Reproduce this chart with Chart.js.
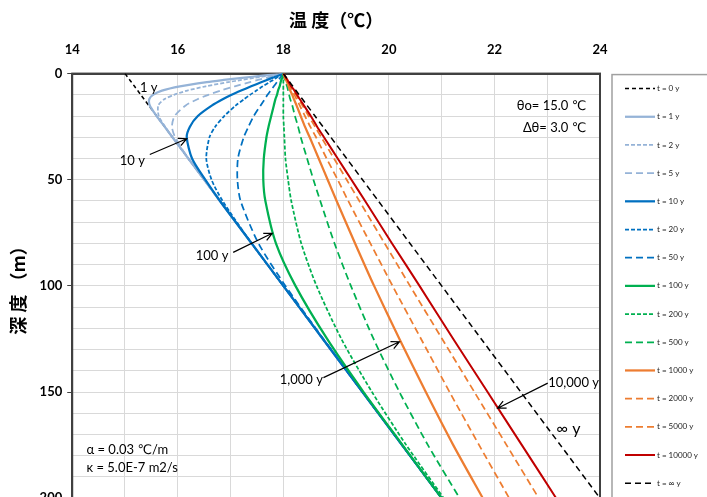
<!DOCTYPE html>
<html>
<head>
<meta charset="utf-8">
<script src="https://cdn.jsdelivr.net/npm/chart.js@4"></script>
<style>
html, body { margin: 0; padding: 0; background: #fff; overflow: hidden; }
#wrap { position: relative; width: 707px; height: 511px; }
</style>
</head>
<body>
<div id="wrap"><canvas id="chartCanvas"></canvas></div>
<script>
// depth (m) shared by every profile
const depths = [0, 1, 2, 3, 4, 6, 8, 10, 12, 15, 20, 25, 30, 40, 50, 60, 80, 100, 125, 150, 175, 200];

// temperature (C) at each depth, one array per elapsed time
const temp0 = [15.00, 15.03, 15.06, 15.09, 15.12, 15.18, 15.24, 15.30, 15.36, 15.45, 15.60, 15.75, 15.90, 16.20, 16.50, 16.80, 17.40, 18.00, 18.75, 19.50, 20.25, 21.00];
const temp1 = [18.00, 17.61, 17.22, 16.87, 16.55, 16.04, 15.70, 15.53, 15.46, 15.47, 15.60, 15.75, 15.90, 16.20, 16.50, 16.80, 17.40, 18.00, 18.75, 19.50, 20.25, 21.00];
const temp2 = [18.00, 17.73, 17.46, 17.21, 16.96, 16.53, 16.18, 15.93, 15.75, 15.63, 15.64, 15.76, 15.90, 16.20, 16.50, 16.80, 17.40, 18.00, 18.75, 19.50, 20.25, 21.00];
const temp5 = [18.00, 17.84, 17.68, 17.52, 17.37, 17.08, 16.81, 16.58, 16.38, 16.15, 15.94, 15.89, 15.95, 16.20, 16.50, 16.80, 17.40, 18.00, 18.75, 19.50, 20.25, 21.00];
const temp10 = [18.00, 17.90, 17.79, 17.69, 17.59, 17.39, 17.20, 17.02, 16.86, 16.65, 16.38, 16.23, 16.17, 16.27, 16.52, 16.80, 17.40, 18.00, 18.75, 19.50, 20.25, 21.00];
const temp20 = [18.00, 17.94, 17.87, 17.81, 17.74, 17.61, 17.49, 17.37, 17.26, 17.10, 16.88, 16.71, 16.60, 16.54, 16.64, 16.85, 17.40, 18.00, 18.75, 19.50, 20.25, 21.00];
const temp50 = [18.00, 17.97, 17.94, 17.91, 17.88, 17.82, 17.76, 17.70, 17.65, 17.57, 17.44, 17.34, 17.25, 17.14, 17.13, 17.19, 17.53, 18.04, 18.76, 19.50, 20.25, 21.00];
const temp100 = [18.00, 17.99, 17.98, 17.96, 17.95, 17.93, 17.90, 17.88, 17.85, 17.82, 17.77, 17.72, 17.68, 17.63, 17.62, 17.66, 17.86, 18.23, 18.83, 19.52, 20.26, 21.00];
const temp200 = [18.00, 18.00, 18.00, 18.00, 18.00, 18.00, 18.00, 18.00, 18.00, 18.00, 18.00, 18.01, 18.02, 18.04, 18.09, 18.15, 18.34, 18.63, 19.10, 19.68, 20.33, 21.04];
const temp500 = [18.00, 18.01, 18.02, 18.03, 18.04, 18.07, 18.09, 18.11, 18.13, 18.17, 18.22, 18.28, 18.33, 18.45, 18.57, 18.70, 18.97, 19.28, 19.71, 20.20, 20.74, 21.34];
const temp1000 = [18.00, 18.02, 18.03, 18.05, 18.07, 18.10, 18.13, 18.17, 18.20, 18.25, 18.33, 18.41, 18.50, 18.67, 18.84, 19.01, 19.36, 19.72, 20.20, 20.70, 21.22, 21.78];
const temp2000 = [18.00, 18.02, 18.04, 18.06, 18.08, 18.12, 18.16, 18.21, 18.25, 18.31, 18.41, 18.51, 18.62, 18.82, 19.03, 19.23, 19.65, 20.07, 20.61, 21.15, 21.71, 22.28];
const temp5000 = [18.00, 18.02, 18.05, 18.07, 18.10, 18.14, 18.19, 18.24, 18.29, 18.36, 18.48, 18.60, 18.72, 18.96, 19.20, 19.44, 19.92, 20.40, 21.01, 21.62, 22.23, 22.84];
const temp10000 = [18.00, 18.03, 18.05, 18.08, 18.10, 18.15, 18.21, 18.26, 18.31, 18.39, 18.52, 18.64, 18.77, 19.03, 19.29, 19.55, 20.06, 20.58, 21.22, 21.87, 22.52, 23.17];
const tempInf = [18.00, 18.03, 18.06, 18.09, 18.12, 18.18, 18.24, 18.30, 18.36, 18.45, 18.60, 18.75, 18.90, 19.20, 19.50, 19.80, 20.40, 21.00, 21.75, 22.50, 23.25, 24.00];

const seriesLabels = ['t = 0 y', 't = 1 y', 't = 2 y', 't = 5 y', 't = 10 y', 't = 20 y', 't = 50 y',
  't = 100 y', 't = 200 y', 't = 500 y', 't = 1000 y', 't = 2000 y', 't = 5000 y', 't = 10000 y', 't = ∞ y'];
const seriesTemps = [temp0, temp1, temp2, temp5, temp10, temp20, temp50,
  temp100, temp200, temp500, temp1000, temp2000, temp5000, temp10000, tempInf];

const xTicks = [14, 16, 18, 20, 22, 24];
const yTicks = [0, 50, 100, 150, 200];

// ---- styles ----
const lightBlue = '#95B3D7';
const blue = '#0070C0';
const green = '#00B050';
const orange = '#ED7D31';
const darkRed = '#C00000';
const black = '#000000';
const shortDash = [4, 2];
const longDash = [7, 4];

const seriesStyles = [
  {color: black, width: 1.5, dash: [4, 3]},
  {color: lightBlue, width: 2.25, dash: []},
  {color: lightBlue, width: 1.75, dash: shortDash},
  {color: lightBlue, width: 1.75, dash: longDash},
  {color: blue, width: 2.25, dash: []},
  {color: blue, width: 1.75, dash: shortDash},
  {color: blue, width: 1.75, dash: longDash},
  {color: green, width: 2.25, dash: []},
  {color: green, width: 1.75, dash: shortDash},
  {color: green, width: 1.75, dash: longDash},
  {color: orange, width: 2.25, dash: []},
  {color: orange, width: 1.75, dash: longDash},
  {color: orange, width: 1.75, dash: longDash},
  {color: darkRed, width: 2, dash: []},
  {color: black, width: 1.5, dash: [6, 4]}
];

// text notes placed in data units (temperature, depth)
const notes = [
  {text: '1 y', t: 15.45, z: 6.6},
  {text: '10 y', t: 15.14, z: 40.9},
  {text: '100 y', t: 16.65, z: 85.7},
  {text: '1,000 y', t: 18.34, z: 144.4},
  {text: '10,000 y', t: 23.02, z: 145.5, align: 'left'},
  {text: '∞ y', t: 23.40, z: 167.5, size: 16},
  {text: 'θo= 15.0 ℃', t: 23.74, z: 15.4, align: 'right'},
  {text: 'Δθ= 3.0 ℃', t: 23.74, z: 25.5, align: 'right'},
  {text: 'α = 0.03 ℃/m', t: 14.27, z: 177.3, align: 'left'},
  {text: 'κ = 5.0E-7 m2/s', t: 14.27, z: 185.5, align: 'left'}
];
const arrows = [
  {from: [15.47, 38.1], to: [16.17, 30.7]},
  {from: [17.05, 84.2], to: [17.79, 75.2]},
  {from: [18.76, 143.2], to: [20.20, 126.3]},
  {from: [23.01, 145.8], to: [22.06, 157.6]}
];

const datasets = seriesLabels.map((label, i) => ({
  label: label,
  data: depths.map((z, k) => ({x: seriesTemps[i][k], y: z})),
  borderColor: seriesStyles[i].color,
  backgroundColor: seriesStyles[i].color,
  borderWidth: seriesStyles[i].width,
  borderDash: seriesStyles[i].dash,
  showLine: true,
  pointRadius: 0,
  tension: 0.25,
  order: -i
}));

const notesPlugin = {
  id: 'notes',
  beforeDatasetsDraw(chart) {
    const {ctx, chartArea: a} = chart;
    ctx.save();
    ctx.strokeStyle = '#404040';
    ctx.lineWidth = 2;
    ctx.strokeRect(a.left, a.top, a.right - a.left, a.bottom - a.top);
    ctx.restore();
  },
  afterDatasetsDraw(chart) {
    const {ctx, scales: {x, y}} = chart;
    ctx.save();
    ctx.fillStyle = '#000';
    ctx.strokeStyle = '#000';
    ctx.textBaseline = 'middle';
    notes.forEach(n => {
      ctx.font = (n.size || 13) + 'px Lato, "DejaVu Sans"';
      ctx.textAlign = n.align || 'center';
      ctx.fillText(n.text, x.getPixelForValue(n.t), y.getPixelForValue(n.z));
    });
    ctx.lineWidth = 1.2;
    arrows.forEach(ar => {
      const x1 = x.getPixelForValue(ar.from[0]), y1 = y.getPixelForValue(ar.from[1]);
      const x2 = x.getPixelForValue(ar.to[0]), y2 = y.getPixelForValue(ar.to[1]);
      const ang = Math.atan2(y2 - y1, x2 - x1);
      ctx.beginPath();
      ctx.moveTo(x1, y1);
      ctx.lineTo(x2, y2);
      ctx.moveTo(x2 - 9 * Math.cos(ang - 0.45), y2 - 9 * Math.sin(ang - 0.45));
      ctx.lineTo(x2, y2);
      ctx.lineTo(x2 - 9 * Math.cos(ang + 0.45), y2 - 9 * Math.sin(ang + 0.45));
      ctx.stroke();
    });
    ctx.restore();
  },
  // legend box at the right of the plot, one row per dataset
  afterDraw(chart) {
    const {ctx, chartArea: a} = chart;
    const rowGap = (a.bottom - a.top - 30) / (chart.data.datasets.length - 1);
    ctx.save();
    ctx.strokeStyle = '#A0A0A0';
    ctx.lineWidth = 1.5;
    ctx.strokeRect(a.right + 12, a.top + 1, chart.width, a.bottom - a.top - 1);
    ctx.font = '8px Lato';
    ctx.fillStyle = '#222';
    ctx.textAlign = 'left';
    ctx.textBaseline = 'middle';
    chart.data.datasets.forEach((ds, i) => {
      const yy = a.top + 15 + i * rowGap;
      ctx.strokeStyle = ds.borderColor;
      ctx.lineWidth = ds.borderWidth;
      ctx.setLineDash(ds.borderDash);
      ctx.beginPath();
      ctx.moveTo(a.right + 25, yy);
      ctx.lineTo(a.right + 55, yy);
      ctx.stroke();
      ctx.fillText(ds.label, a.right + 57, yy);
    });
    ctx.restore();
  }
};

const profileChart = new Chart(document.getElementById('chartCanvas'), {
  type: 'scatter',
  data: {datasets: datasets},
  plugins: [notesPlugin],
  options: {
    responsive: true,
    maintainAspectRatio: false,
    animation: false,
    layout: {padding: {top: 4, left: 4, right: 107, bottom: 0}},
    plugins: {
      legend: {display: false},
      tooltip: {enabled: false}
    },
    scales: {
      x: {
        type: 'linear',
        position: 'top',
        min: 14,
        max: 24,
        ticks: {
          stepSize: 1,
          autoSkip: false,
          maxRotation: 0,
          padding: 16,
          color: '#000',
          font: {family: 'Lato', size: 13, weight: 'bold'},
          callback: v => xTicks.includes(v) ? v : ''
        },
        grid: {color: '#D9D9D9', drawTicks: false},
        border: {color: '#404040', width: 2},
        title: {
          display: true,
          text: '温 度（℃）',
          color: '#000',
          font: {family: 'Noto Sans CJK JP', size: 18, weight: 'bold', lineHeight: 0.61},
          padding: {top: 11, bottom: 0}
        }
      },
      y: {
        type: 'linear',
        reverse: true,
        min: 0,
        max: 200,
        ticks: {
          stepSize: 10,
          autoSkip: false,
          padding: 5,
          color: '#000',
          font: {family: 'Lato', size: 13, weight: 'bold'},
          callback: v => yTicks.includes(v) ? v : ''
        },
        grid: {
          color: '#D9D9D9',
          tickLength: 5,
          tickColor: c => (c.tick && yTicks.includes(c.tick.value)) ? '#404040' : 'rgba(0,0,0,0)'
        },
        border: {color: '#404040', width: 2},
        title: {
          display: true,
          text: '深 度 （m）',
          color: '#000',
          font: {family: 'Noto Sans CJK JP', size: 18, weight: 'bold'},
          padding: {top: 3, bottom: 6}
        }
      }
    }
  }
});
</script>
</body>
</html>
